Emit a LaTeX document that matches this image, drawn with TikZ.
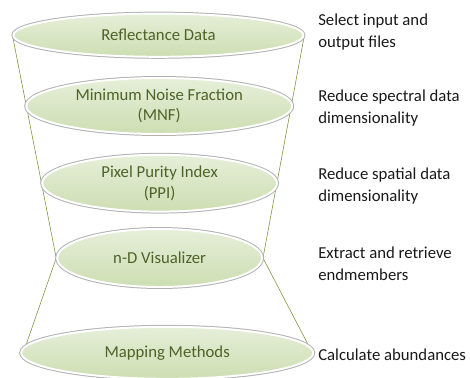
\documentclass[tikz,border=0pt]{standalone}
\usepackage{fontspec}
\setmainfont{Carlito}
\usetikzlibrary{shapes.geometric,backgrounds}
\definecolor{stagefill}{HTML}{CDDEB2}
\definecolor{stagetext}{HTML}{4F6228}
\definecolor{funnel}{HTML}{77933C}
\tikzset{
  stage/.style={shape=ellipse, inner sep=0pt, align=center, text=stagetext,
    top color=stagefill!50!white, bottom color=stagefill,
    draw=white, line width=1.4pt,
    preaction={draw=black!30, line width=2.8pt},
    font=\fontsize{11.9}{14.5}\selectfont},
  note/.style={anchor=west, align=left, inner sep=0pt, text=black!90,
    font=\fontsize{11.9}{15.5}\selectfont},
}
\begin{document}
\begin{tikzpicture}
\useasboundingbox (0,0) rectangle (11.75,-9.425);
\node[stage, minimum width=7.25cm, minimum height=1.08cm] (refl) at (3.96,-0.88) {Reflectance Data};
\node[stage, minimum width=6.65cm, minimum height=1.4cm] (mnf) at (3.98,-2.65) {Minimum Noise Fraction\\(MNF)};
\node[stage, minimum width=5.87cm, minimum height=1.42cm] (ppi) at (3.99,-4.58) {Pixel Purity Index\\(PPI)};
\node[stage, minimum width=5.12cm, minimum height=1.45cm] (ndv) at (3.99,-6.45) {n-D Visualizer};
\node[stage, minimum width=7.3cm, minimum height=1.3cm] (map) at (4.18,-8.82) {Mapping Methods};
\node[note] (n1) at (7.95,-0.8) {Select input and\\output files};
\node[note] (n2) at (7.95,-2.7) {Reduce spectral data\\dimensionality};
\node[note] (n3) at (7.95,-4.65) {Reduce spatial data\\dimensionality};
\node[note] (n4) at (7.95,-6.6) {Extract and retrieve\\endmembers};
\node[note] (n5) at (7.95,-8.87) {Calculate abundances};
\begin{scope}[on background layer]
\path [-, thin, draw=funnel] (refl.west) edge (ndv.west);
\path [-, thin, draw=funnel] (refl.east) edge (ndv.east);
\path [-, thin, draw=funnel] (ndv.west) edge (map.177);
\path [-, thin, draw=funnel] (ndv.east) edge (map.3);
\end{scope}
\end{tikzpicture}
\end{document}
